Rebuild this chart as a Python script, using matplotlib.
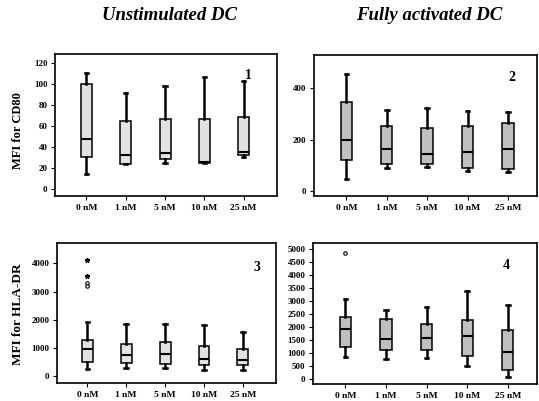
import numpy as np
import matplotlib
matplotlib.use("Agg")
import matplotlib.pyplot as plt

plt.rcParams['font.family'] = ['Liberation Serif', 'DejaVu Serif']
plt.rcParams['font.weight'] = 'bold'

# concentration groups
doses = ["0 nM", "1 nM", "5 nM", "10 nM", "25 nM"]

# panel 1: unstimulated DC, CD80
cd80_un_low = [14, 24, 25, 25, 30]
cd80_un_q1 = [30, 24, 28, 25, 32]
cd80_un_med = [48, 32, 34, 26, 35]
cd80_un_q3 = [100, 65, 67, 67, 69]
cd80_un_high = [111, 92, 98, 107, 103]

# panel 2: fully activated DC, CD80
cd80_act_low = [46, 91, 94, 78, 73]
cd80_act_q1 = [121, 107, 104, 90, 86]
cd80_act_med = [199, 163, 143, 152, 163]
cd80_act_q3 = [344, 254, 246, 254, 266]
cd80_act_high = [455, 315, 324, 309, 306]

# panel 3: unstimulated DC, HLA-DR
hla_un_low = [270, 294, 294, 212, 235]
hla_un_q1 = [518, 482, 435, 412, 388]
hla_un_med = [965, 741, 776, 600, 565]
hla_un_q3 = [1270, 1153, 1224, 1059, 976]
hla_un_high = [1906, 1835, 1835, 1800, 1553]
hla_un_outliers = [3300, 3200]
hla_un_extremes = [4100, 3550]

# panel 4: fully activated DC, HLA-DR
hla_act_low = [829, 765, 816, 510, 89]
hla_act_q1 = [1237, 1110, 1110, 880, 344]
hla_act_med = [1939, 1543, 1569, 1645, 1033]
hla_act_q3 = [2385, 2296, 2117, 2270, 1888]
hla_act_high = [3100, 2653, 2768, 3406, 2857]
hla_act_outliers = [4850]


def make_stats(low, q1, med, q3, high, fliers0=()):
    stats = []
    for i in range(len(doses)):
        stats.append({
            "whislo": low[i], "q1": q1[i], "med": med[i], "q3": q3[i],
            "whishi": high[i], "fliers": list(fliers0) if i == 0 else [],
            "label": doses[i],
        })
    return stats


fig = plt.figure(figsize=(5.39, 4.01), dpi=100)

W, H = 539, 401
def add_ax(l, t, r, b):
    return fig.add_axes([l / W, (H - b) / H, (r - l) / W, (b - t) / H])

ax1 = add_ax(55, 54, 277, 196)
ax2 = add_ax(314, 55, 537, 196)
ax3 = add_ax(57, 243, 276, 383)
ax4 = add_ax(313, 243, 537, 384)

panels = [
    (ax1, make_stats(cd80_un_low, cd80_un_q1, cd80_un_med, cd80_un_q3, cd80_un_high),
     '#e2e2e2', (-7, 129), np.arange(0, 121, 20), "1", (5.13, 108), (0.2, 5.85)),
    (ax2, make_stats(cd80_act_low, cd80_act_q1, cd80_act_med, cd80_act_q3, cd80_act_high),
     '#c0c0c0', (-19, 528), np.arange(0, 401, 200), "2", (5.1, 439), (0.2, 5.72)),
    (ax3, make_stats(hla_un_low, hla_un_q1, hla_un_med, hla_un_q3, hla_un_high, hla_un_outliers),
     '#e2e2e2', (-240, 4719), np.arange(0, 4001, 1000), "3", (5.35, 3840), (0.22, 5.85)),
    (ax4, make_stats(hla_act_low, hla_act_q1, hla_act_med, hla_act_q3, hla_act_high, hla_act_outliers),
     '#c0c0c0', (-200, 5243), np.arange(0, 5001, 500), "4", (4.95, 4363), (0.2, 5.72)),
]

for ax, stats, fc, ylim, yticks, num, numpos, xlim in panels:
    ax.bxp(stats, widths=0.28, patch_artist=True, showfliers=True,
           boxprops=dict(facecolor=fc, edgecolor='black', linewidth=1.1),
           medianprops=dict(color='black', linewidth=1.5),
           whiskerprops=dict(color='black', linewidth=1.8),
           capprops=dict(color='black', linewidth=1.8),
           capwidths=0.09,
           flierprops=dict(marker='o', markersize=2.5, markerfacecolor='white',
                           markeredgecolor='black', markeredgewidth=0.8))
    ax.set_ylim(*ylim)
    ax.set_xlim(*xlim)
    ax.set_yticks(yticks)
    ax.tick_params(axis='both', direction='out', length=3, width=0.8, pad=2.5,
                   labelsize=6.5)
    ax.tick_params(axis='x', labelsize=6.8)
    for sp in ax.spines.values():
        sp.set_linewidth(1.2)
    ax.text(numpos[0], numpos[1], num, fontsize=10, fontweight='bold',
            ha='center', va='center')

# extreme values on panel 3
ax3.plot([1] * len(hla_un_extremes), hla_un_extremes, linestyle='none',
         marker='*', markersize=3.5, color='black')

fig.text(170 / W, 1 - 16 / H, "Unstimulated DC", fontsize=13.5,
         fontweight='bold', fontstyle='italic', ha='center', va='center')
fig.text(429 / W, 1 - 16 / H, "Fully activated DC", fontsize=13.5,
         fontweight='bold', fontstyle='italic', ha='center', va='center')
fig.text(18 / W, 1 - 131 / H, "MFI for CD80", fontsize=9, fontweight='bold',
         rotation=90, ha='center', va='center')
fig.text(18 / W, 1 - 314 / H, "MFI for HLA-DR", fontsize=9.5, fontweight='bold',
         rotation=90, ha='center', va='center')

fig.savefig("out.png", dpi=100)
